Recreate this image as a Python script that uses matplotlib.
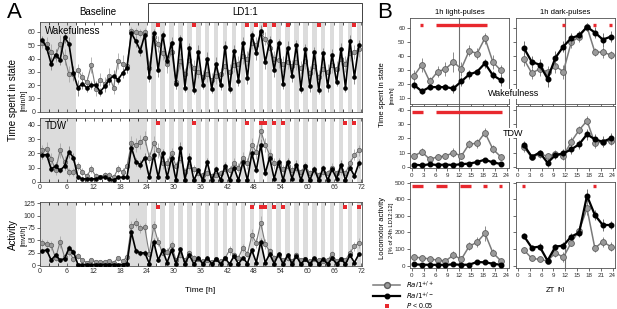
import numpy as np
import matplotlib
matplotlib.use('Agg')
import matplotlib.pyplot as plt
from matplotlib.lines import Line2D

plt.rcParams['font.family'] = ['Liberation Sans', 'DejaVu Sans']

# ---------------- panel A data (hourly, 72 h) ----------------
hours = np.arange(0.5, 72, 1.0)
dark_on = [0, 20, 25, 27, 29, 31, 33, 35, 37, 39, 41, 43, 45, 47, 49, 51, 53, 55, 57, 59, 61, 63, 65, 67, 69, 71]
dark_off = [8, 24, 26, 28, 30, 32, 34, 36, 38, 40, 42, 44, 46, 48, 50, 52, 54, 56, 58, 60, 62, 64, 66, 68, 70, 72]

wake_black = [54, 48, 36, 43, 39, 56, 51, 29, 18, 21, 18, 20,
              20, 15, 19, 24, 27, 24, 29, 33, 59, 53, 46, 58,
              26, 59, 31, 58, 38, 52, 21, 55, 18, 48, 16, 45,
              20, 40, 17, 36, 20, 49, 17, 46, 23, 52, 25, 58,
              44, 61, 37, 53, 31, 52, 21, 48, 27, 50, 17, 47,
              19, 45, 16, 44, 19, 43, 22, 47, 18, 53, 26, 50]
wake_gray = [52, 51, 45, 42, 51, 41, 28, 28, 31, 26, 22, 35,
             17, 24, 21, 27, 18, 38, 36, 34, 61, 60, 59, 60,
             33, 56, 51, 44, 36, 45, 22, 38, 28, 39, 33, 30,
             26, 28, 24, 27, 28, 34, 30, 35, 36, 42, 40, 52,
             50, 59, 55, 48, 40, 39, 36, 37, 34, 37, 33, 38,
             29, 34, 26, 32, 30, 35, 32, 40, 36, 44, 45, 47]
wake_black_err = [3, 4, 5, 4, 4, 4, 5, 5, 6, 4, 3, 3,
                  3, 3, 4, 4, 4, 3, 4, 4, 3, 4, 4, 3,
                  4, 3, 5, 3, 5, 4, 4, 3, 3, 4, 3, 5,
                  3, 5, 3, 5, 4, 4, 3, 4, 4, 4, 4, 3,
                  5, 4, 5, 4, 5, 3, 4, 5, 5, 4, 3, 4,
                  4, 4, 3, 4, 4, 4, 3, 5, 3, 5, 5, 4]
wake_gray_err = [4, 5, 6, 5, 7, 6, 6, 5, 5, 4, 4, 6,
                 5, 5, 5, 6, 5, 6, 7, 5, 3, 3, 3, 3,
                 5, 4, 6, 5, 7, 6, 5, 6, 5, 6, 6, 5,
                 5, 6, 5, 6, 5, 6, 6, 5, 6, 6, 6, 5,
                 6, 5, 5, 6, 6, 6, 6, 5, 5, 6, 5, 6,
                 5, 6, 5, 5, 6, 6, 6, 5, 6, 6, 5, 6]

tdw_black = [19, 19, 9, 11, 8, 11, 21, 17, 3, 2, 2, 2,
             2, 3, 3, 2, 1, 3, 3, 3, 24, 14, 12, 17,
             3, 19, 3, 20, 3, 17, 1, 24, 1, 17, 1, 8,
             1, 14, 1, 9, 1, 11, 1, 10, 1, 14, 1, 20,
             8, 26, 6, 17, 2, 14, 1, 14, 2, 12, 1, 11,
             1, 9, 1, 10, 1, 9, 2, 12, 1, 10, 4, 13]
tdw_gray = [22, 23, 16, 8, 22, 14, 7, 7, 11, 7, 4, 9,
            4, 3, 5, 5, 3, 9, 7, 11, 27, 26, 28, 31,
            17, 27, 22, 13, 13, 20, 11, 17, 7, 11, 9, 6,
            5, 6, 4, 5, 6, 9, 8, 13, 10, 17, 13, 26,
            21, 36, 26, 19, 13, 12, 9, 11, 8, 10, 7, 11,
            6, 8, 5, 7, 6, 10, 6, 8, 6, 13, 19, 22]
tdw_black_err = [3, 3, 2, 3, 2, 3, 4, 3, 1, 1, 1, 1,
                 1, 1, 1, 1, 1, 1, 1, 1, 4, 3, 3, 3,
                 1, 3, 1, 3, 1, 3, 1, 4, 1, 3, 1, 2,
                 1, 3, 1, 2, 1, 3, 1, 2, 1, 3, 1, 3,
                 2, 4, 2, 3, 1, 3, 1, 3, 1, 3, 1, 2,
                 1, 2, 1, 2, 1, 2, 1, 3, 1, 2, 2, 3]
tdw_gray_err = [4, 5, 4, 3, 5, 4, 3, 3, 3, 3, 2, 3,
                2, 2, 2, 2, 2, 3, 3, 3, 5, 5, 5, 5,
                4, 5, 5, 4, 4, 4, 3, 4, 3, 3, 3, 2,
                2, 2, 2, 2, 2, 3, 3, 4, 3, 4, 4, 5,
                5, 5, 5, 4, 4, 3, 3, 3, 3, 3, 2, 3,
                2, 3, 2, 2, 2, 3, 2, 3, 2, 3, 4, 4]

act_black = [29, 30, 10, 20, 10, 13, 34, 27, 1, 1, 1, 1,
             1, 1, 1, 1, 1, 1, 1, 3, 66, 29, 24, 25,
             3, 47, 10, 30, 5, 30, 3, 32, 3, 20, 2, 15,
             2, 15, 2, 12, 2, 14, 2, 18, 2, 15, 3, 30,
             5, 47, 5, 22, 3, 22, 2, 20, 3, 18, 2, 12,
             2, 14, 2, 12, 2, 14, 2, 12, 2, 20, 5, 22]
act_gray = [45, 43, 40, 14, 47, 16, 27, 12, 18, 10, 5, 10,
            7, 7, 7, 9, 5, 14, 8, 16, 78, 86, 74, 76,
            22, 79, 47, 24, 27, 40, 10, 20, 10, 25, 15, 12,
            8, 10, 6, 12, 8, 14, 30, 20, 15, 35, 22, 60,
            45, 86, 42, 28, 15, 20, 10, 14, 8, 20, 10, 12,
            8, 12, 10, 8, 10, 22, 8, 12, 10, 25, 38, 45]
act_black_err = [5, 5, 3, 4, 3, 4, 6, 5, 1, 1, 1, 1,
                 1, 1, 1, 1, 1, 1, 1, 1, 8, 6, 5, 5,
                 1, 7, 3, 5, 2, 5, 1, 5, 1, 4, 1, 3,
                 1, 3, 1, 3, 1, 3, 1, 4, 1, 3, 1, 5,
                 2, 7, 2, 4, 1, 4, 1, 4, 1, 4, 1, 3,
                 1, 3, 1, 3, 1, 3, 1, 3, 1, 4, 2, 4]
act_gray_err = [8, 8, 9, 5, 12, 6, 8, 5, 6, 4, 3, 4,
                3, 3, 3, 3, 3, 5, 4, 6, 12, 10, 10, 10,
                7, 10, 9, 6, 7, 8, 4, 6, 4, 6, 5, 4,
                3, 4, 3, 4, 3, 5, 9, 6, 5, 8, 6, 12,
                10, 14, 10, 7, 5, 6, 4, 5, 3, 6, 4, 4,
                3, 4, 4, 3, 4, 6, 3, 4, 4, 7, 9, 10]

wake_sig = [26.5, 34.5, 46.5, 48.5, 50.5, 52.5, 55.5, 62.5, 70.5]
tdw_sig = [26.5, 34.5, 46.5, 49.5, 50.5, 52.5, 54.5, 68.5, 70.5]
act_sig = [26.5, 47.5, 49.5, 50.5, 52.5, 54.5, 68.5, 71.5]

# ---------------- panel B data (2-h bins) ----------------
zt_light = [0.5, 2.5, 4.5, 6.5, 8.5, 10.5, 12.5, 14.5, 16.5, 18.5, 20.5, 22.5]
zt_dark = [1.5, 3.5, 5.5, 7.5, 9.5, 11.5, 13.5, 15.5, 17.5, 19.5, 21.5, 23.5]

lw_gray = [26, 34, 22, 29, 31, 36, 31, 44, 42, 53, 36, 30]
lw_black = [19.5, 15, 18, 18, 18, 17, 22, 27, 29, 35, 26.5, 23]
lw_gray_err = [4, 5, 3, 4, 5, 7, 5, 4, 4, 4, 5, 4]
lw_black_err = [3, 2, 2, 2, 2, 3, 3, 3, 2, 3, 3, 4]
dw_gray = [38, 28, 31, 29, 33, 29, 50, 54, 61, 43, 43, 41]
dw_black = [46, 36, 34, 24, 39, 47, 53, 55, 61, 57, 52, 54]
dw_gray_err = [5, 4, 5, 4, 5, 5, 4, 4, 3, 3, 4, 3]
dw_black_err = [5, 4, 4, 6, 5, 4, 4, 3, 3, 4, 5, 4]

lt_gray = [7.5, 10.6, 5.2, 7, 7.5, 10, 7.5, 16, 16.5, 24, 12.5, 7]
lt_black = [1.5, 1, 1.7, 1.2, 1.5, 1.2, 1.8, 2.2, 3.3, 5, 3, 2]
lt_gray_err = [2, 2.5, 1.5, 2, 2, 3, 2, 2.5, 3, 3, 3, 2]
lt_black_err = [0.5, 0.5, 0.5, 0.5, 0.5, 0.5, 0.5, 0.8, 0.8, 1, 1, 0.8]
dt_gray = [13.7, 6.6, 8.9, 7.5, 8.9, 7.5, 17.6, 25.8, 32.4, 16.5, 17.6, 18.3]
dt_black = [15.3, 7, 10, 2.8, 8.2, 9.4, 12.2, 15.8, 22.8, 19.3, 17.6, 20]
dt_gray_err = [3, 2, 3, 2, 3, 3, 3, 3, 3, 3, 3, 3]
dt_black_err = [3, 2, 2, 3, 3, 3, 3, 3, 4, 4, 4, 4]

la_gray = [50, 48, 40, 34, 28, 64, 38, 117, 141, 195, 78, 30]
la_black = [8, 6, 5, 5, 5, 8, 5, 6, 22, 20, 12, 5]
la_gray_err = [10, 8, 8, 8, 8, 25, 12, 25, 30, 45, 20, 10]
la_black_err = [3, 2, 2, 2, 2, 3, 2, 2, 5, 5, 4, 2]
da_gray = [95, 44, 38, 28, 78, 50, 139, 211, 345, 105, 145, 115]
da_black = [179, 108, 115, 30, 115, 121, 175, 199, 421, 305, 245, 245]
da_gray_err = [20, 10, 8, 6, 25, 30, 20, 30, 40, 20, 30, 25]
da_black_err = [20, 15, 20, 10, 15, 20, 20, 25, 40, 30, 35, 25]

lw_sig = [2.5, 6.5, 8.5, 10.5, 12.5, 14.5, 16.5, 18.5]
dw_sig = [11.5, 19.5, 23.5]
lt_sig = [0.5, 2.5, 6.5, 8.5, 10.5, 12.5, 14.5, 16.5, 18.5, 20.5, 22.5]
dt_sig = []
la_sig = [0.5, 2.5, 6.5, 8.5, 12.5, 14.5, 18.5, 22.5]
da_sig = [1.5, 19.5]

RED = '#e8282e'
GRAY_FACE = '#9a9a9a'
GRAY_EDGE = '#5e5e5e'
SHADE = '#dcdcdc'

W, H = 617, 309
fig = plt.figure(figsize=(W / 100, H / 100), dpi=100)


def px_axes(l, t, r, b):
    return fig.add_axes([l / W, 1 - b / H, (r - l) / W, (b - t) / H])


def style_axes(ax, lsize):
    for s in ax.spines.values():
        s.set_linewidth(0.6)
        s.set_color('#505050')
    ax.tick_params(labelsize=lsize, length=2, width=0.5, pad=1.5, colors='#303030')


# ---------------- panel A ----------------
a_rows = [
    (22, 112, wake_gray, wake_black, wake_gray_err, wake_black_err, wake_sig, (-0.3, 67.5), 65.3, [0, 10, 20, 30, 40, 50, 60], 'Wakefulness'),
    (118, 182, tdw_gray, tdw_black, tdw_gray_err, tdw_black_err, tdw_sig, (-0.2, 44.9), 41.6, [0, 10, 20, 30, 40], 'TDW'),
    (202, 266, act_gray, act_black, act_gray_err, act_black_err, act_sig, (-2, 127.6), 117.5, [0, 25, 50, 75, 100, 125], None),
]
for i, (t, b, g, k, ge, ke, sig, ylim, sy, yt, name) in enumerate(a_rows):
    ax = px_axes(40, t, 362, b)
    for on, off in zip(dark_on, dark_off):
        ax.axvspan(on, off, color=SHADE, lw=0, zorder=0)
    ax.errorbar(hours, g, yerr=ge, fmt='-o', color='#7a7a7a', mfc=GRAY_FACE, mec=GRAY_EDGE,
                ms=3.2, mew=0.5, lw=0.8, ecolor='#a8a8a8', elinewidth=0.6, capsize=0, zorder=3)
    ax.errorbar(hours, k, yerr=ke, fmt='-o', color='black', ms=2.3, lw=1.2,
                ecolor='#808080', elinewidth=0.6, capsize=0, zorder=4)
    ax.plot(sig, [sy] * len(sig), 's', color=RED, ms=2.8, mew=0, zorder=5)
    ax.set_xlim(0, 72.2)
    ax.set_ylim(*ylim)
    ax.set_yticks(yt)
    ax.set_xticks(range(0, 73, 6))
    ax.set_xticks(range(0, 73, 2), minor=True)
    ax.tick_params(axis='x', which='both', top=True, direction='in', length=2, width=0.5)
    style_axes(ax, 5)
    if i == 0:
        ax.set_xticklabels([])
    if name:
        ax.text(0.015, 0.95, name, transform=ax.transAxes, fontsize=7, va='top', ha='left', zorder=6)

fig.text(98 / W, 1 - 12 / H, 'Baseline', fontsize=7, ha='center', va='center')
fig.text(245 / W, 1 - 12 / H, 'LD1:1', fontsize=7, ha='center', va='center')
fig.add_artist(Line2D([148 / W, 148 / W, 362 / W, 362 / W], [1 - 22 / H, 1 - 3 / H, 1 - 3 / H, 1 - 22 / H],
                      color='#404040', lw=0.7))
fig.text(14 / W, 1 - 12 / H, 'A', fontsize=16, ha='center', va='center')
fig.text(13 / W, 1 - 100 / H, 'Time spent in state', fontsize=7, rotation=90, ha='center', va='center')
fig.text(24 / W, 1 - 100 / H, '[min/h]', fontsize=5, rotation=90, ha='center', va='center')
fig.text(13 / W, 1 - 235 / H, 'Activity', fontsize=7, rotation=90, ha='center', va='center')
fig.text(24 / W, 1 - 235 / H, '[mvt/h]', fontsize=5, rotation=90, ha='center', va='center')
fig.text(200 / W, 1 - 290 / H, 'Time [h]', fontsize=6, ha='center', va='center')

# ---------------- panel B ----------------
b_rows = [
    (18, 104, (5.9, 67.4), [10, 20, 30, 40, 50, 60], 62.4,
     (lw_gray, lw_black, lw_gray_err, lw_black_err, lw_sig),
     (dw_gray, dw_black, dw_gray_err, dw_black_err, dw_sig)),
    (106, 168, (-0.9, 42.8), [0, 10, 20, 30, 40], 38.4,
     (lt_gray, lt_black, lt_gray_err, lt_black_err, lt_sig),
     (dt_gray, dt_black, dt_gray_err, dt_black_err, dt_sig)),
    (182, 268, (-14, 504), [0, 100, 200, 300, 400, 500], 480,
     (la_gray, la_black, la_gray_err, la_black_err, la_sig),
     (da_gray, da_black, da_gray_err, da_black_err, da_sig)),
]


def draw_sig(ax, xs, y):
    # consecutive significant bins (2 h apart) are drawn as one bar
    runs = []
    for x in xs:
        if runs and abs(x - runs[-1][-1] - 2) < 1e-6:
            runs[-1].append(x)
        else:
            runs.append([x])
    for r in runs:
        ax.plot([r[0] - 0.4, r[-1] + 0.4], [y, y], color=RED, lw=2.4, solid_capstyle='butt', zorder=5)


for r, (t, b, ylim, yt, sy, left, right) in enumerate(b_rows):
    for c, (l, rr, zt, dat) in enumerate([(410, 509, zt_light, left), (516, 615, zt_dark, right)]):
        ax = px_axes(l, t, rr, b)
        g, k, ge, ke, sig = dat
        ax.axvline(12, color='#707070', lw=0.8, zorder=1)
        ax.errorbar(zt, g, yerr=ge, fmt='-o', color='#7a7a7a', mfc=GRAY_FACE, mec=GRAY_EDGE,
                    ms=4.2, mew=0.6, lw=1.1, ecolor='#8a8a8a', elinewidth=0.7, capsize=0, zorder=3)
        ax.errorbar(zt, k, yerr=ke, fmt='-o', color='black', ms=3.3, lw=1.6,
                    ecolor='#707070', elinewidth=0.7, capsize=0, zorder=4)
        draw_sig(ax, sig, sy)
        ax.set_xlim(-0.5, 24.6)
        ax.set_ylim(*ylim)
        ax.set_yticks(yt)
        ax.set_xticks(range(0, 25, 3))
        style_axes(ax, 4.5)
        if r == 0:
            ax.set_xticklabels([])
        if c == 1:
            ax.set_yticklabels([])

fig.text(460 / W, 1 - 12 / H, '1h light-pulses', fontsize=5.5, ha='center', va='center')
fig.text(565 / W, 1 - 12 / H, '1h dark-pulses', fontsize=5.5, ha='center', va='center')
fig.text(385 / W, 1 - 12 / H, 'B', fontsize=16, ha='center', va='center')
fig.text(514 / W, 1 - 94 / H, 'Wakefulness', fontsize=6.5, ha='center', va='center',
         bbox=dict(facecolor='white', edgecolor='none', pad=0.5))
fig.text(513 / W, 1 - 133 / H, 'TDW', fontsize=6.5, ha='center', va='center',
         bbox=dict(facecolor='white', edgecolor='none', pad=0.5))
fig.text(383 / W, 1 - 95 / H, 'Time spent in state', fontsize=5.5, rotation=90, ha='center', va='center')
fig.text(392 / W, 1 - 95 / H, '[min/h]', fontsize=4.2, rotation=90, ha='center', va='center')
fig.text(383 / W, 1 - 228 / H, 'Locomotor activity', fontsize=5.5, rotation=90, ha='center', va='center')
fig.text(392 / W, 1 - 228 / H, '[% of 24h LD12:12]', fontsize=4.2, rotation=90, ha='center', va='center')
fig.text(555 / W, 1 - 290 / H, 'ZT', fontsize=5.5, ha='right', va='center')
fig.text(557 / W, 1 - 290 / H, '[h]', fontsize=4.5, ha='left', va='center')

# legend, drawn by hand below the left column of B
leg_rows = [285, 296, 306]
leg_text = [r'$\it{Rai1}^{+/+}$', r'$\it{Rai1}^{+/-}$', r'$\it{P}$ < 0.05']
fig.add_artist(Line2D([373 / W, 400 / W], [1 - leg_rows[0] / H] * 2, color='#7a7a7a', lw=1.1))
fig.add_artist(Line2D([386.5 / W], [1 - leg_rows[0] / H], marker='o', mfc=GRAY_FACE, mec=GRAY_EDGE, ms=4.2, lw=0))
fig.add_artist(Line2D([373 / W, 400 / W], [1 - leg_rows[1] / H] * 2, color='black', lw=1.6))
fig.add_artist(Line2D([386.5 / W], [1 - leg_rows[1] / H], marker='o', color='black', ms=3.3, lw=0))
fig.add_artist(Line2D([386.5 / W], [1 - leg_rows[2] / H], marker='s', color=RED, ms=2.4, mew=0, lw=0))
for yy, s in zip(leg_rows, leg_text):
    fig.text(406 / W, 1 - yy / H, s, fontsize=5, ha='left', va='center')

fig.savefig('out.png', dpi=100)
